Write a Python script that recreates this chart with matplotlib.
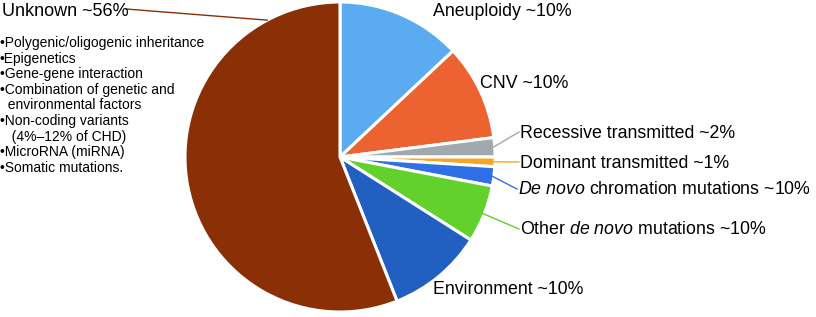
import matplotlib
matplotlib.use("Agg")
import matplotlib.pyplot as plt
import numpy as np

plt.rcParams['font.family'] = ['Liberation Sans', 'DejaVu Sans']
plt.rcParams['mathtext.fontset'] = 'custom'
plt.rcParams['mathtext.rm'] = 'Liberation Sans'
plt.rcParams['mathtext.it'] = 'Liberation Sans:italic'
plt.rcParams['mathtext.bf'] = 'Liberation Sans:bold'

categories = ["Aneuploidy", "CNV", "Recessive transmitted", "Dominant transmitted",
              "De novo chromation mutations", "Other de novo mutations",
              "Environment", "Unknown"]
values = [13, 10, 2, 1, 2, 6, 10, 56]
colors = ["#5aabf0", "#ec6230", "#a0a9ad", "#f6a524", "#2f70e6", "#62d12b", "#2160c0", "#8a2f06"]
label_texts = [r"Aneuploidy ~10%", r"CNV ~10%", r"Recessive transmitted ~2%",
               r"Dominant transmitted ~1%", r"$\it{De\ novo}$ chromation mutations ~10%",
               r"Other $\it{de\ novo}$ mutations ~10%", r"Environment ~10%", r"Unknown ~56%"]
bullets = ["•Polygenic/oligogenic inheritance", "•Epigenetics", "•Gene-gene interaction",
           "•Combination of genetic and", "  environmental factors", "•Non-coding variants",
           "   (4%–12% of CHD)", "•MicroRNA (miRNA)", "•Somatic mutations."]

W, H = 816, 317
fig = plt.figure(figsize=(W / 100, H / 100), dpi=100)
ax = fig.add_axes([0, 0, 1, 1])

cx, cy, R = 340, H - 157, 155
wedges, _ = ax.pie(values, colors=colors, startangle=90, counterclock=False,
                   center=(cx, cy), radius=R, frame=True,
                   wedgeprops=dict(edgecolor='white', linewidth=2.2))
ax.set_xlim(0, W)
ax.set_ylim(0, H)
ax.set_aspect('equal')
ax.axis('off')

def mid(w):
    return np.deg2rad((w.theta1 + w.theta2) / 2)

fs = 12.8
placements = {
    0: (433, 12, False),
    1: (480, 83, False),
    2: (520, 133, True),
    3: (520, 163, True),
    4: (518, 190, True),
    5: (520, 230, True),
    6: (433, 290, False),
}
for i, (px, py, leader) in placements.items():
    ax.text(px, H - py, label_texts[i], fontsize=fs, ha='left', va='center', color='black')
    if leader:
        a = mid(wedges[i])
        x0, y0 = cx + R * np.cos(a) * 0.99, cy + R * np.sin(a) * 0.99
        ax.plot([x0, px - 1], [y0, H - py + 1], color=colors[i], lw=1)

ax.text(2, H - 12, label_texts[7], fontsize=13.0, ha='left', va='center')
ang = np.deg2rad(118)
ax.plot([126, cx + R * np.cos(ang)], [H - 9, cy + R * np.sin(ang)], color=colors[7], lw=1)

for k, b in enumerate(bullets):
    ax.text(0, H - 43 - k * 15.6, b, fontsize=10, ha='left', va='center')

fig.savefig("out.png", dpi=100)
